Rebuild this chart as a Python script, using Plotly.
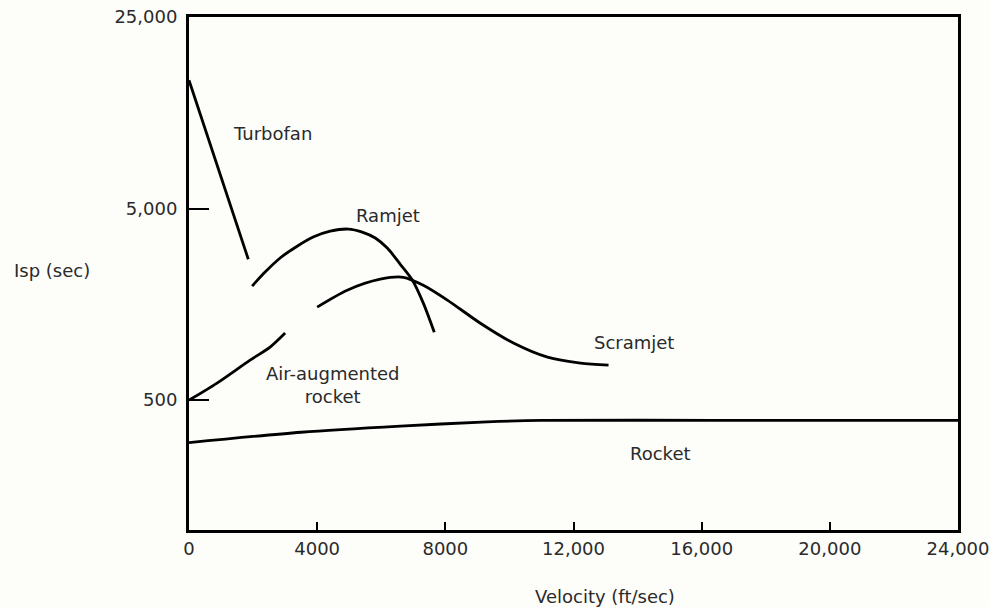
import numpy as np
import plotly.graph_objects as go

# ---- data (velocity in ft/sec, Isp in sec) ----
turbofan_v = [0, 1850]
turbofan_isp = [14700, 2720]

ramjet_v = [1970, 2375, 2844, 3375, 3875, 4406, 4969, 5406, 5813, 6188, 6594, 6969, 7313, 7656]
ramjet_isp = [1970, 2330, 2760, 3180, 3550, 3810, 3910, 3770, 3510, 3110, 2560, 2120, 1605, 1130]

scramjet_v = [4000, 4938, 5969, 6688, 7313, 8063, 9094, 10125, 11188, 12219, 13094]
scramjet_isp = [1530, 1875, 2140, 2190, 1990, 1665, 1260, 993, 838, 780, 762]

aug_v = [0, 875, 1906, 2531, 3000]
aug_isp = [500, 614, 809, 946, 1120]

rocket_v = [0, 3500, 6600, 9300, 11000, 16400, 24000]
rocket_isp = [300, 340, 366, 385, 392, 392, 392]

x_ticks = [0, 4000, 8000, 12000, 16000, 20000, 24000]
x_ticktext = ["0", "4000", "8000", "12,000", "16,000", "20,000", "24,000"]
y_ticks = [500, 5000, 25000]
y_ticktext = ["500", "5,000", "25,000"]
y_min_isp, y_max_isp = 105, 25000

labels = ["Turbofan", "Ramjet", "Scramjet", "Air-augmented<br>rocket", "Rocket"]
label_v = [2594, 6219, 13875, 4500, 14719]
label_isp = [9425, 4620, 1005, 598, 264]


# The chart's Isp axis is non-uniform: one equal step per 500 -> 5,000 -> 25,000
def ypos(isp):
    isp = np.asarray(isp, dtype=float)
    return np.where(isp <= 5000,
                    1 + np.log10(isp / 500.0),
                    2 + np.log(isp / 5000.0) / np.log(5.0))


FONT = "DejaVu Sans"
TXT = "#2a2a2a"

fig = go.Figure()
curves = [
    (turbofan_v, turbofan_isp, "linear"),
    (ramjet_v, ramjet_isp, "spline"),
    (scramjet_v, scramjet_isp, "spline"),
    (aug_v, aug_isp, "spline"),
    (rocket_v, rocket_isp, "spline"),
]
for xv, yv, shape in curves:
    fig.add_trace(go.Scatter(
        x=xv, y=ypos(yv), mode="lines",
        line=dict(color="black", width=2.8, shape=shape, smoothing=0.8),
        showlegend=False, hoverinfo="skip"))

for t, xv, yv in zip(labels, label_v, label_isp):
    fig.add_annotation(x=xv, y=float(ypos(yv)), text=t, showarrow=False,
                       font=dict(family=FONT, size=18, color=TXT),
                       xanchor="center", yanchor="middle")

fig.add_annotation(xref="paper", yref="paper", x=(604 - 189) / 768, y=-(596 - 530) / 513,
                   text="Velocity (ft/sec)", showarrow=False,
                   font=dict(family=FONT, size=18, color=TXT),
                   xanchor="center", yanchor="middle")
fig.add_annotation(xref="paper", yref="paper", x=-(189 - 52) / 768, y=(530 - 270) / 513,
                   text="Isp (sec)", showarrow=False,
                   font=dict(family=FONT, size=18, color=TXT),
                   xanchor="center", yanchor="middle")

fig.update_layout(
    width=989, height=607,
    margin=dict(l=189, r=31, t=17, b=77),
    paper_bgcolor="#fdfdfa", plot_bgcolor="#fdfdfa",
    font=dict(family=FONT, size=18, color=TXT),
)
fig.update_xaxes(range=[0, 24000], tickvals=x_ticks, ticktext=x_ticktext,
                 ticks="inside", ticklen=8, tickwidth=1.5, tickcolor="black",
                 showline=True, linewidth=3, linecolor="black", mirror=True,
                 showgrid=False, zeroline=False, ticklabeloverflow="allow",
                 automargin=False,
                 tickfont=dict(family=FONT, size=18, color=TXT))
fig.update_yaxes(range=[float(ypos(y_min_isp)), float(ypos(y_max_isp))],
                 tickvals=ypos(y_ticks).tolist(), ticktext=y_ticktext,
                 ticks="inside", ticklen=20, tickwidth=1.5, tickcolor="black",
                 showline=True, linewidth=3, linecolor="black", mirror=True,
                 showgrid=False, zeroline=False, ticklabelstandoff=5,
                 ticklabeloverflow="allow", automargin=False,
                 tickfont=dict(family=FONT, size=18, color=TXT))

fig.write_html("out.html", config={"displayModeBar": False},
               post_script="document.body.style.margin='0';document.body.style.overflow='hidden';")
